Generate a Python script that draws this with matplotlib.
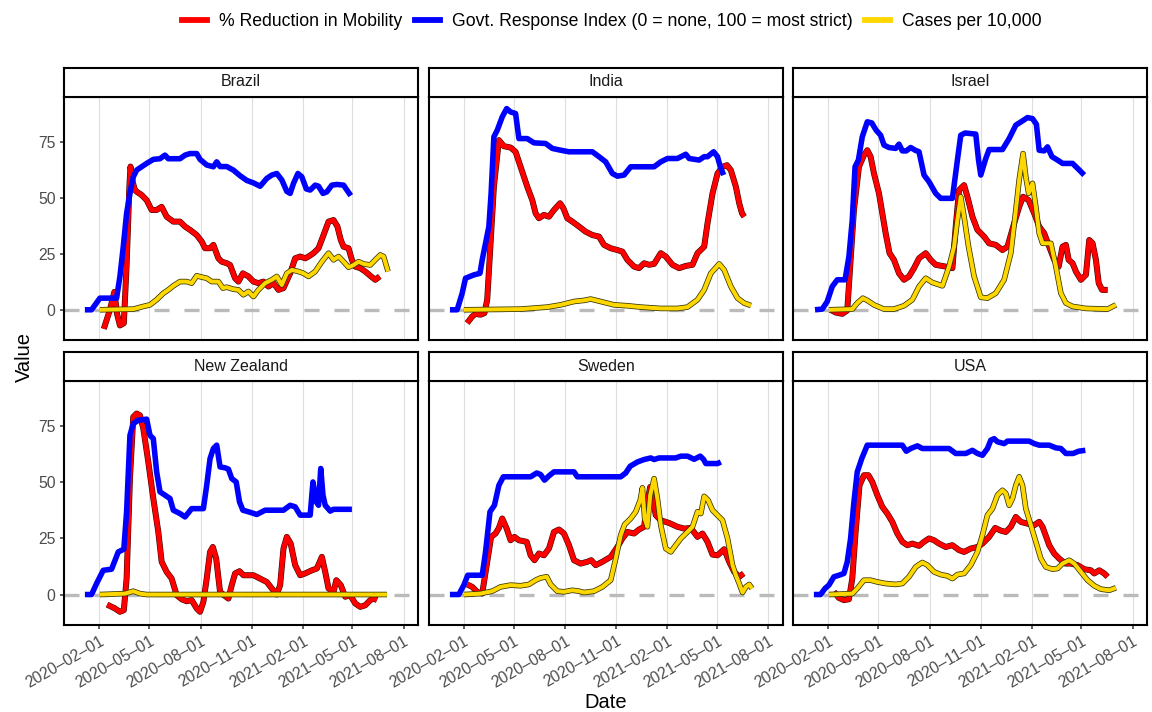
import numpy as np
import matplotlib
matplotlib.use("Agg")
import matplotlib.pyplot as plt
import matplotlib.dates as mdates
import matplotlib.patheffects as pe
from matplotlib.lines import Line2D

plt.rcParams['font.family'] = ['Liberation Sans', 'DejaVu Sans']

# ---------------------------------------------------------------- data
# x values are days since 2020-01-01
countries = ["Brazil", "India", "Israel", "New Zealand", "Sweden", "USA"]
series_labels = ["% Reduction in Mobility",
                 "Govt. Response Index (0 = none, 100 = most strict)",
                 "Cases per 10,000"]
series_colors = ["#FF0000", "#0000FF", "#FFD700"]
tick_dates = ["2020-02-01", "2020-05-01", "2020-08-01", "2020-11-01",
              "2021-02-01", "2021-05-01", "2021-08-01"]
y_ticks = [0, 25, 50, 75]

brazil_mob_day = [39, 50, 58, 63, 68, 75, 80, 85, 87, 91, 95, 98, 107, 116, 125, 134, 143, 152, 164, 176,
                  185, 194, 206, 215, 221, 230, 236, 245, 251, 260, 266, 275, 281, 289, 299, 308, 317, 326,
                  335, 344, 353, 362, 374, 383, 392, 401, 407, 416, 425, 434, 443, 452, 459, 465, 470, 479,
                  485, 491, 500, 509, 518, 527, 535]
brazil_mob = [-8.5, 0, 8, -2, -7, -6, 20, 55, 64, 57, 53.5, 52.8, 51.3, 49, 44.6, 44.6, 46, 41.6, 39.4, 39.4,
              37.2, 35.7, 33.4, 30.5, 27.5, 27.5, 29, 23, 21.5, 20.8, 20, 14.1, 12.6, 16.3, 14.9, 12.6, 11.9,
              12.6, 10.4, 11.9, 8.9, 9.7, 16.3, 23, 23.8, 23, 23.8, 25.3, 27.5, 33.4, 39.4, 40.1, 37.2, 31.2,
              28.2, 27.5, 22.3, 19.3, 18.6, 17.1, 15.2, 13.4, 14.9]
brazil_gri_day = [5, 17, 32, 62, 68, 74, 80, 87, 92, 98, 107, 116, 128, 140, 149, 155, 176, 185, 194, 206,
                  212, 224, 236, 242, 248, 260, 272, 284, 296, 308, 320, 332, 341, 350, 359, 368, 374, 380,
                  388, 395, 403, 410, 419, 425, 433, 440, 449, 458, 470, 476, 483]
brazil_gri = [0, 0, 5.2, 5.2, 14.9, 28.2, 43.1, 53.5, 59.4, 62.4, 63.9, 65.4, 67.2, 67.5, 69.1, 67.5, 67.5,
              69.1, 69.8, 69.8, 67.2, 64.7, 63.9, 66.1, 64, 64, 62.4, 59.9, 57.8, 56.7, 55.2, 58.7, 60.2,
              60.9, 58, 52.9, 52, 56.5, 60.9, 59.4, 54, 53.5, 55.7, 55.2, 52, 52.7, 55.7, 56, 55.7, 53.5, 51]
brazil_cases_day = [32, 92, 110, 122, 134, 146, 155, 164, 176, 188, 197, 206, 215, 224, 233, 245, 253, 260,
                    272, 281, 290, 299, 308, 317, 329, 341, 350, 359, 368, 377, 389, 398, 407, 419, 431,
                    443, 452, 461, 470, 479, 488, 497, 506, 518, 527, 536, 542, 550]
brazil_cases = [0, 0.3, 1.5, 2.2, 4.5, 7.4, 8.9, 10.7, 12.6, 12.6, 11.9, 15.2, 14.6, 14.1, 12.6, 12.6, 9.7,
                10.1, 9.2, 8.9, 6.7, 8.2, 5.9, 8.9, 11.9, 13.4, 14.9, 11.1, 16.3, 17.8, 17.1, 16.3, 14.9,
                17.1, 21.5, 25.3, 22.3, 23.8, 21.5, 19, 20, 21.5, 20.5, 20, 22.3, 24.5, 23.8, 17.1]

india_mob_day = [37, 46, 52, 61, 68, 73, 79, 85, 94, 103, 115, 124, 133, 145, 154, 160, 166, 175, 184, 193,
                 204, 210, 217, 226, 238, 250, 262, 274, 283, 295, 307, 316, 325, 337, 346, 355, 364, 373,
                 385, 394, 406, 418, 430, 442, 451, 463, 469, 478, 487, 496, 504, 511, 520, 526, 531, 535]
india_mob = [-5.9, -3, -1.8, -2.2, -1.5, 4.5, 29.7, 55, 75.8, 73.1, 72.5, 70.6, 63.9, 55, 49, 43.1, 40.9,
             42.4, 41.6, 44.6, 47.6, 45.3, 40.9, 39.4, 37.2, 34.9, 33.4, 32.7, 29, 27.5, 26.7, 26, 22.3,
             19.3, 18.6, 20.8, 20.1, 20.5, 25.3, 23.8, 20.1, 18.6, 19.6, 20.1, 25.3, 28.2, 38.6, 52, 60.9,
             63.9, 64.6, 62.4, 55, 47.6, 43.1, 41.6]
india_gri_day = [6, 19, 28, 34, 49, 60, 64, 70, 76, 80, 85, 91, 100, 108, 115, 124, 130, 145, 157, 178,
                 190, 205, 220, 262, 274, 286, 298, 307, 319, 331, 373, 385, 397, 415, 430, 436, 454, 463,
                 469, 480, 487, 492, 498]
india_gri = [0, 0, 7.4, 14.1, 15.6, 16.3, 22.3, 29.7, 37.2, 52, 77.3, 80.2, 86.2, 89.9, 88.4, 87.7, 76.5,
             76.5, 74.6, 74.3, 72.1, 71.3, 70.6, 70.6, 68.4, 66.1, 60.9, 59.7, 60.2, 63.9, 63.9, 66.1,
             67.6, 67.6, 69.5, 67.6, 66.9, 68.4, 68.4, 70.6, 68.4, 63.9, 60.2]
india_cases_day = [31, 133, 181, 205, 229, 247, 259, 277, 301, 325, 349, 385, 415, 433, 451, 463, 475, 490,
                   499, 511, 523, 535, 547]
india_cases = [0, 0.3, 1.2, 2.2, 3.7, 4.2, 4.8, 3.7, 2.2, 1.8, 1.2, 0.6, 0.6, 1.2, 4.5, 8.9, 16.3, 20.5,
               17.8, 10.4, 5.2, 3, 1.9]

israel_mob_day = [35, 44, 56, 65, 71, 77, 86, 95, 101, 107, 113, 122, 128, 134, 141, 149, 158, 167, 176,
                  185, 194, 206, 215, 224, 242, 254, 260, 266, 275, 281, 290, 299, 311, 320, 332, 344, 353,
                  365, 374, 381, 391, 401, 410, 419, 428, 437, 445, 452, 458, 463, 470, 476, 485, 494, 500,
                  506, 512, 517, 523, 533]
israel_mob = [0, -1.2, -1.8, -0.3, 22.3, 44.6, 63.9, 69.1, 71.3, 68.4, 60.9, 52, 43.1, 34.2, 25.3, 22.3,
              16.3, 13.4, 14.9, 18.6, 23, 25.3, 22.3, 20.1, 19.3, 18.6, 37.2, 53.5, 55.7, 50.5, 41.6, 35.7,
              32.7, 29.7, 29, 26.7, 28.2, 38.6, 46, 50.5, 49, 43.1, 37.2, 34.2, 28.2, 22.3, 19.3, 28.2, 29,
              22.3, 20.8, 17.1, 13.4, 15.6, 31.2, 29.7, 22.3, 11.9, 8.9, 8.9]
israel_gri_day = [7, 20, 29, 38, 47, 61, 68, 74, 79, 85, 92, 101, 109, 117, 125, 131, 140, 152, 158, 164,
                  171, 179, 187, 194, 203, 212, 224, 233, 254, 263, 269, 277, 296, 301, 305, 314, 320, 344,
                  356, 368, 380, 389, 398, 405, 410, 419, 425, 433, 443, 452, 470, 479, 491]
israel_gri = [0, 0.3, 3.7, 10.4, 13.4, 13.4, 23.8, 40.1, 63.9, 66.9, 77.3, 84, 83.5, 80.2, 78, 73.6, 72.5,
              72.1, 74, 71, 71, 72.5, 71.3, 70.6, 60.2, 57.2, 52, 49.8, 49.8, 66.9, 78, 79, 78.5, 66.9,
              60.2, 67.6, 71.6, 71.6, 76.5, 82.5, 84.4, 85.9, 85.4, 82.9, 71.3, 71, 72.8, 68.4, 66.9, 65.4,
              65.4, 63.2, 60.2]
israel_cases_day = [32, 74, 83, 93, 101, 113, 131, 149, 167, 182, 194, 206, 218, 236, 248, 257, 263, 269,
                    275, 283, 293, 305, 317, 332, 347, 359, 368, 374, 381, 386, 391, 398, 404, 410, 416,
                    431, 440, 449, 458, 470, 494, 533, 548]
israel_cases = [0, 0.3, 3, 5.2, 4.2, 2.2, 0.3, 0.3, 1.8, 4.5, 10.4, 14.1, 12.2, 10.7, 19.3, 28.2, 40.1,
                50.5, 41.6, 28.2, 14.9, 5.6, 5.2, 7.4, 13.4, 25.3, 44.6, 58, 69.8, 59.4, 52, 56.5, 46,
                34.2, 29.7, 29.7, 19.3, 7.4, 3, 1.5, 0.6, 0.3, 2.2]

nz_mob_day = [45, 59, 68, 75, 80, 86, 92, 98, 104, 110, 119, 128, 137, 143, 152, 161, 170, 179, 188, 197,
              206, 212, 218, 224, 230, 235, 241, 248, 255, 263, 269, 275, 283, 290, 308, 320, 332, 341,
              350, 356, 362, 368, 375, 383, 392, 401, 413, 422, 431, 437, 443, 452, 457, 465, 473, 482,
              491, 500, 509, 518, 524, 530]
nz_mob = [-4.5, -6.2, -7.7, -7, 7.1, 51.7, 79.2, 80.7, 79.9, 74, 59.1, 42.8, 27.9, 14.6, 10.1, 7.1, -0.3,
          -2.1, -3, -2.5, -6.2, -7.7, -3.3, 7.1, 19, 21.2, 16, 1.2, -0.3, -1.8, 4.2, 9.4, 10.4, 8.6, 8.6,
          7.1, 5.6, 2.7, 0, 4.2, 20.5, 25.7, 22.7, 13.1, 8.6, 9.4, 10.8, 11.6, 16.8, 10.1, 2.7, 1.2, 6.4,
          4.2, -1, -0.3, -4, -5.5, -4.8, -2.5, -1.8, -2.5]
nz_gri_day = [5, 17, 26, 38, 53, 65, 75, 80, 86, 92, 101, 116, 122, 128, 134, 140, 149, 158, 164, 176,
              185, 197, 218, 224, 230, 236, 242, 248, 257, 263, 269, 277, 283, 289, 299, 314, 329, 362,
              374, 383, 392, 410, 415, 421, 425, 429, 433, 437, 446, 452, 485]
nz_gri = [0, 0, 4.9, 10.8, 11.3, 19, 20.2, 36.9, 71, 76.2, 77.7, 78.2, 71, 69.5, 54.7, 45.8, 44.3, 42.8,
          37.6, 36.1, 34.6, 38.3, 38.3, 48.7, 60.6, 65.1, 66.6, 56.9, 56.5, 55.9, 51.7, 50.2, 41.3, 37.6,
          36.9, 35.7, 37.6, 37.6, 39.8, 39.1, 35.4, 35.4, 50.2, 41.3, 39.8, 56.2, 44.3, 39.8, 37.2, 38, 38]
nz_cases_day = [32, 77, 92, 104, 116, 300, 548]
nz_cases = [0, 0.4, 1.5, 0.4, 0, 0, 0]

sweden_mob_day = [37, 46, 55, 64, 73, 80, 88, 94, 100, 108, 115, 122, 130, 144, 151, 158, 166, 175, 184,
                  193, 202, 211, 220, 229, 241, 253, 260, 268, 280, 295, 307, 316, 325, 337, 346, 355,
                  361, 366, 370, 376, 385, 400, 415, 427, 439, 451, 460, 469, 478, 487, 499, 508, 517,
                  526, 534]
sweden_mob = [4.5, 3.4, 1.2, 0.4, 14.6, 25.7, 27.2, 29.7, 33.9, 29.4, 24.2, 25.7, 24.2, 23.5, 17.5, 15.3,
              18.3, 17.5, 20.5, 27.9, 29, 27.2, 22, 15.3, 13.8, 14.6, 15.3, 13.1, 14.6, 16.8, 21.2, 25,
              27.9, 27.2, 29, 30.2, 41.3, 48, 43.1, 35.4, 33.1, 31.9, 30.2, 29.4, 29.7, 25.7, 27.2, 23.5,
              17.8, 17.5, 20.2, 14.6, 10.1, 7.9, 9.4]
sweden_gri_day = [6, 22, 31, 38, 64, 70, 78, 86, 94, 102, 151, 162, 169, 176, 184, 193, 229, 235, 313,
                  322, 330, 343, 355, 367, 373, 382, 412, 421, 433, 445, 456, 462, 466, 487, 493]
sweden_gri = [0, 0, 4.2, 8.6, 8.6, 19, 36.9, 39.8, 48.7, 52.5, 52.5, 54.2, 53.5, 51, 52.9, 54.7, 54.7,
              52.5, 52.5, 54.2, 57.2, 59.1, 60.2, 60.9, 60.2, 60.9, 60.9, 61.7, 61.7, 60.3, 61.7, 60.2,
              58.4, 58.4, 59.1]
sweden_cases_day = [31, 61, 82, 97, 115, 133, 148, 160, 169, 180, 187, 199, 211, 226, 238, 247, 265, 280,
                    295, 304, 313, 320, 331, 340, 348, 352, 356, 361, 366, 373, 379, 385, 394, 403, 412,
                    421, 433, 442, 451, 457, 463, 470, 478, 490, 496, 505, 514, 520, 526, 532, 538, 544,
                    549]
sweden_cases = [0, 0.4, 1.5, 3.4, 4.2, 3.9, 4.5, 6.4, 7.4, 7.9, 4.5, 1.5, 1.2, 1.9, 1.5, 0.9, 1.5, 3.4,
                6.4, 16, 26.5, 31.2, 33.9, 36.9, 42.1, 47.6, 33.9, 30.2, 44.3, 51.7, 42.8, 30.9, 20.5, 19,
                22, 25, 27.9, 30.2, 36.9, 36.1, 43.8, 42.1, 37.6, 34.6, 33.1, 25, 13.1, 8.6, 4.9, 0.9, 3.4,
                4.5, 2.7]

usa_mob_day = [41, 50, 59, 68, 74, 80, 87, 95, 103, 110, 119, 128, 137, 146, 155, 164, 173, 182, 194, 203,
               212, 221, 230, 242, 254, 266, 275, 287, 299, 308, 320, 331, 341, 350, 359, 368, 377, 389,
               401, 410, 416, 428, 437, 446, 457, 467, 479, 491, 503, 509, 518, 527, 533]
usa_mob = [1.2, -1.5, -2.5, -2.1, 7.1, 27.9, 48.7, 53.2, 53.2, 50.2, 44.3, 39.1, 36.1, 32.4, 27.2, 23.5,
           22, 22.7, 21.7, 23.5, 25, 24.2, 22.7, 21.2, 22, 19.8, 19, 20.5, 21.2, 22.7, 25.7, 29.7, 28.5,
           27.9, 30.2, 34.6, 32.4, 31.6, 30.9, 32.4, 30.2, 22, 18.3, 16, 13.8, 13.8, 13.1, 11.3, 10.8, 9.4,
           10.8, 9.4, 7.9]
usa_gri_day = [5, 17, 25, 32, 41, 50, 59, 65, 71, 77, 83, 91, 101, 164, 171, 179, 191, 200, 248, 260, 278,
               290, 299, 308, 317, 323, 329, 335, 347, 353, 392, 401, 410, 428, 440, 449, 458, 471, 481, 493]
usa_gri = [0, 0, 2.7, 4.2, 7.9, 8.6, 9.4, 14.6, 25, 41.3, 54.7, 60.6, 66.6, 66.6, 63.9, 65.1, 66.3, 65.1,
           65.1, 62.9, 62.9, 64.3, 62.9, 62.1, 65.1, 68.8, 69.5, 68.1, 67.3, 68.4, 68.4, 67.3, 66.6, 66.6,
           65.4, 65.1, 62.9, 62.9, 63.9, 64.3]
usa_cases_day = [32, 74, 83, 95, 107, 119, 134, 152, 164, 176, 188, 200, 209, 221, 233, 245, 254, 263,
                 275, 287, 299, 308, 317, 326, 335, 344, 350, 356, 362, 368, 374, 380, 386, 395, 404, 413,
                 422, 434, 443, 452, 464, 473, 485, 497, 509, 521, 536, 548]
usa_cases = [0, 0.4, 2.7, 6.4, 6.4, 5.6, 4.9, 4.5, 4.9, 7.9, 12.3, 14.3, 13.1, 10.1, 8.9, 8.3, 7.1, 8.9,
             9.4, 13.1, 19, 26.5, 35.4, 38.3, 44.3, 46.5, 45.1, 39.8, 42.8, 48.7, 52.5, 48.7, 38.3, 30.9,
             23.5, 16, 12.3, 11.3, 11.6, 13.8, 15.3, 13.8, 10.1, 6.4, 3.9, 2.4, 1.9, 3]

panel_data = {
    "Brazil": [(brazil_mob_day, brazil_mob), (brazil_gri_day, brazil_gri), (brazil_cases_day, brazil_cases)],
    "India": [(india_mob_day, india_mob), (india_gri_day, india_gri), (india_cases_day, india_cases)],
    "Israel": [(israel_mob_day, israel_mob), (israel_gri_day, israel_gri), (israel_cases_day, israel_cases)],
    "New Zealand": [(nz_mob_day, nz_mob), (nz_gri_day, nz_gri), (nz_cases_day, nz_cases)],
    "Sweden": [(sweden_mob_day, sweden_mob), (sweden_gri_day, sweden_gri), (sweden_cases_day, sweden_cases)],
    "USA": [(usa_mob_day, usa_mob), (usa_gri_day, usa_gri), (usa_cases_day, usa_cases)],
}

# ---------------------------------------------------------------- layout
W, H = 1152, 712
fig = plt.figure(figsize=(W / 100, H / 100), dpi=100)

origin = mdates.date2num(np.datetime64("2020-01-01"))
tick_pos = [mdates.date2num(np.datetime64(d)) for d in tick_dates]
tick_text = [d.replace("-", "\u2013") for d in tick_dates]

col_left = [64.3, 428.8, 793.3]
panel_w = 353.8
rows = [(96.5, 340.0, 67.5), (380.8, 624.8, 352.3)]   # plot top, plot bottom, strip top (px)

line_widths = [3.5, 4.0, 2.9]
outline = [("#3a0000", 0.8), (None, 0), ("#333300", 1.1)]

for i, name in enumerate(countries):
    r, c = divmod(i, 3)
    top, bottom, stop = rows[r]
    left = col_left[c]
    ax = fig.add_axes([left / W, 1 - bottom / H, panel_w / W, (bottom - top) / H])
    strip = fig.add_axes([left / W, 1 - top / H, panel_w / W, (top - stop) / H])

    ax.set_xlim(origin - 32, origin + 604)
    ax.set_ylim(-13.5, 95.3)
    ax.grid(axis="x", color="#DEDEDE", lw=0.8)
    ax.set_axisbelow(True)
    ax.axhline(0, color="#BBBBBB", lw=2.4, dashes=(4.5, 4.5), zorder=1.5)

    for k in range(3):
        days, vals = panel_data[name][k]
        x = origin + np.asarray(days, dtype=float)
        effects = None
        if outline[k][0] is not None:
            effects = [pe.Stroke(linewidth=line_widths[k] + outline[k][1], foreground=outline[k][0]),
                       pe.Normal()]
        ax.plot(x, vals, color=series_colors[k], lw=line_widths[k], zorder=3 + k,
                solid_joinstyle="round", solid_capstyle="butt", path_effects=effects)

    ax.set_xticks(tick_pos)
    ax.set_xticklabels(tick_text, rotation=30, ha="right", va="top", rotation_mode="anchor")
    ax.set_yticks(y_ticks)
    ax.tick_params(length=3.2, width=1.1, color="#333333", labelcolor="#4D4D4D",
                   labelsize=11.3, pad=3.0)
    if r == 0:
        ax.tick_params(axis="x", bottom=False, labelbottom=False)
    if c != 0:
        ax.tick_params(axis="y", left=False, labelleft=False)
    for sp in ax.spines.values():
        sp.set_linewidth(1.5)
        sp.set_color("black")

    strip.set_xticks([])
    strip.set_yticks([])
    strip.set_facecolor("white")
    for sp in strip.spines.values():
        sp.set_linewidth(1.5)
        sp.set_color("black")
    strip.text(0.5, 0.5, name, ha="center", va="center", fontsize=11.5, color="#1A1A1A",
               transform=strip.transAxes)

fig.text(24.5 / W, 1 - 357 / H, "Value", rotation=90, ha="center", va="center", fontsize=14.5)
fig.text(606 / W, 1 - 703 / H, "Date", ha="center", va="center", fontsize=14.5)

handles = [Line2D([0], [0], color=col, lw=4.2) for col in series_colors]
fig.legend(handles, series_labels, loc="center", bbox_to_anchor=(612 / W, 1 - 22 / H), ncol=3,
           frameon=False, fontsize=12.7, handlelength=1.42, handletextpad=0.68, columnspacing=0.7)

fig.savefig("out.png", dpi=100)
